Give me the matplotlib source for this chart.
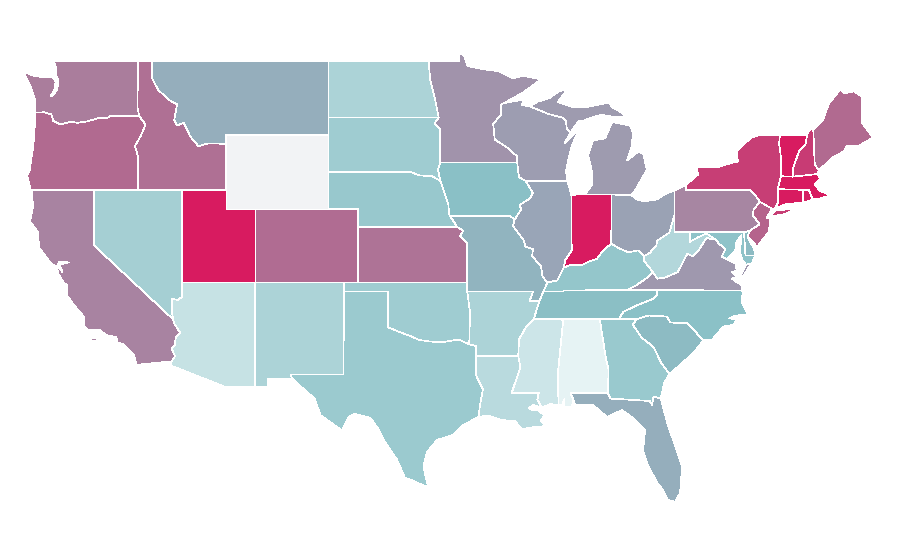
import matplotlib
matplotlib.use('Agg')
import matplotlib.pyplot as plt
from matplotlib.colors import LinearSegmentedColormap, Normalize

# value per state
state_names = ['WA', 'OR', 'CA', 'ID', 'NV', 'UT', 'AZ', 'MT', 'WY', 'CO', 'NM', 'ND', 'SD', 'NE', 'KS', 'OK', 'TX',
               'MN', 'IA', 'MO', 'AR', 'LA', 'WI', 'IL', 'MI', 'IN', 'OH', 'KY', 'TN', 'MS', 'AL', 'GA', 'FL',
               'SC', 'NC', 'VA', 'WV', 'MD', 'DE', 'PA', 'NJ', 'NY', 'CT', 'RI', 'MA', 'VT', 'NH', 'ME']
state_values = [72, 78, 70, 76, 30, 100, 17, 55, 0, 77, 27, 27, 32, 34.5, 75, 32, 33.5,
                64.5, 40, 50, 27, 22, 61, 58, 62, 100, 59, 36, 41, 14.5, 5, 34, 55,
                44, 39.5, 62.5, 24.5, 38, 44, 69.5, 80, 90, 100, 98, 100, 100, 91, 78]

color_stops = [0, 0.05, 0.40, 0.55, 0.70, 0.78, 1.0]
color_hex = ['#f2f3f5', '#e5f3f4', '#8ac0c6', '#95aebc', '#a884a1', '#b16a90', '#d81b60']

# shared borders, lon/lat
WA_OR = [(-124.02, 46.2), (-123.4, 46.22), (-122.9, 46.1), (-122.78, 45.75), (-122.3, 45.56), (-121.6, 45.7),
         (-121.1, 45.65), (-120.5, 45.72), (-119.6, 45.92), (-119.0, 45.93), (-118.98, 46.0), (-116.92, 46.0)]
ID_MT = [(-116.05, 49), (-116.05, 48.05), (-115.65, 47.45), (-114.95, 46.9), (-114.35, 46.65), (-114.55, 45.8),
         (-114.35, 45.5), (-113.9, 45.65), (-113.45, 44.9), (-112.9, 44.38), (-112.3, 44.52), (-111.5, 44.52),
         (-111.05, 44.48)]
ID_OR = [(-116.92, 46.0), (-116.5, 45.55), (-116.85, 44.9), (-117.22, 44.4), (-117.03, 43.85), (-117.03, 42)]
CA_AZ = [(-114.63, 35), (-114.57, 34.8), (-114.15, 34.27), (-114.43, 34.05), (-114.52, 33.6), (-114.72, 33.4),
         (-114.5, 33.0), (-114.72, 32.72)]
NV_AZ = [(-114.04, 37), (-114.04, 36.2), (-114.3, 36.05), (-114.72, 36.1), (-114.7, 35.4), (-114.63, 35)]
RED = [(-100, 34.56), (-99.2, 34.3), (-98.5, 34.1), (-97.9, 33.88), (-97.2, 33.8), (-96.4, 33.75), (-95.2, 33.9),
       (-94.48, 33.64)]
TX_AR = [(-94.48, 33.64), (-94.04, 33.55), (-94.04, 33.02)]
TX_LA = [(-94.04, 33.02), (-94.04, 32.0), (-93.55, 31.2), (-93.75, 30.35), (-93.85, 29.7)]
MN_WI = [(-92.1, 46.72), (-92.3, 46.65), (-92.3, 46.1), (-92.85, 45.6), (-92.75, 44.75), (-91.9, 44.3),
         (-91.25, 43.85), (-91.22, 43.5)]
IA_WI = [(-91.22, 43.5), (-91.1, 42.7), (-90.65, 42.5)]
IA_IL = [(-90.65, 42.5), (-90.15, 41.85), (-90.35, 41.55), (-91.05, 41.2), (-90.95, 40.95), (-91.4, 40.4)]
IL_MO = [(-91.4, 40.4), (-91.5, 40.05), (-90.75, 39.25), (-90.68, 38.95), (-90.15, 38.8), (-90.2, 38.4),
         (-89.6, 37.9), (-89.5, 37.3), (-89.15, 37.0)]
KY_MO = [(-89.15, 37.0), (-89.45, 36.5)]
TN_MO = [(-89.45, 36.5), (-89.7, 36.0)]
TN_AR = [(-89.7, 36.0), (-90.1, 35.0)]
MS_AR = [(-90.1, 35.0), (-90.6, 34.6), (-91.1, 33.9), (-91.15, 33.0)]
MS_LA = [(-91.15, 33.0), (-91.0, 32.4), (-91.6, 31.0), (-89.75, 31.0), (-89.85, 30.65), (-89.55, 30.2)]
KY_IL = [(-89.15, 37.0), (-88.5, 37.1), (-88.05, 37.8)]
KY_IN = [(-88.05, 37.8), (-87.6, 37.95), (-86.8, 37.95), (-86.3, 38.15), (-85.8, 38.27), (-85.4, 38.7), (-84.82, 39.1)]
KY_OH = [(-84.82, 39.1), (-84.3, 38.85), (-83.65, 38.63), (-83.0, 38.73), (-82.6, 38.42)]
OH_WV = [(-82.6, 38.42), (-82.2, 38.6), (-81.75, 39.0), (-81.7, 39.25), (-80.87, 39.7), (-80.52, 40.64)]
IL_IN = [(-87.53, 41.72), (-87.53, 39.35), (-87.5, 38.75), (-87.95, 38.2), (-88.05, 37.8)]
SD_NE = [(-98.5, 43), (-97.9, 42.8), (-97.0, 42.75), (-96.45, 42.5)]
IA_SD = [(-96.45, 43.5), (-96.6, 43.1), (-96.45, 42.5)]
IA_NE = [(-96.45, 42.5), (-96.1, 41.7), (-95.9, 41.2), (-95.85, 40.7), (-95.77, 40.58)]
NE_MO = [(-95.77, 40.58), (-95.3, 40)]
KS_MO = [(-95.3, 40), (-94.9, 39.8), (-95.1, 39.5), (-94.62, 39.1), (-94.62, 37)]
ND_MN = [(-97.23, 49), (-97.15, 48.0), (-96.8, 46.9), (-96.56, 45.94)]
SD_MN = [(-96.56, 45.94), (-96.85, 45.6), (-96.45, 45.3), (-96.45, 43.5)]
WI_MI = [(-90.4, 46.55), (-89.1, 46.13), (-88.1, 45.92), (-87.9, 45.75), (-87.85, 45.35), (-87.6, 45.1)]
GA_AL = [(-85.6, 35), (-85.18, 32.87), (-85.0, 32.3), (-85.05, 31.0)]
GA_SC = [(-83.1, 35), (-83.35, 34.7), (-82.75, 34.0), (-81.95, 33.5), (-81.4, 32.6), (-80.85, 32.03)]
NC_SC = [(-83.1, 35), (-82.3, 35.2), (-81.05, 35.15), (-80.8, 34.82), (-79.67, 34.8), (-78.55, 33.86)]
GA_FL = [(-85.05, 31.0), (-84.86, 30.7), (-82.2, 30.57), (-82.05, 30.36), (-81.95, 30.8), (-81.45, 30.72)]
MS_AL = [(-88.2, 35), (-88.1, 34.9), (-88.47, 31.9), (-88.4, 30.35)]
TN_NC = [(-84.32, 35), (-84.0, 35.4), (-83.1, 35.75), (-82.0, 36.1), (-81.7, 36.3), (-81.68, 36.59)]
KY_VA = [(-83.68, 36.6), (-83.1, 36.85), (-82.3, 37.3), (-81.97, 37.54)]
KY_WV = [(-81.97, 37.54), (-82.6, 38.17), (-82.6, 38.42)]
VA_WV = [(-81.97, 37.54), (-81.7, 37.2), (-81.2, 37.25), (-80.3, 37.55), (-79.65, 38.55), (-79.3, 38.42),
         (-78.85, 38.77), (-78.35, 39.4), (-77.72, 39.32)]
VA_MD = [(-77.72, 39.32), (-77.5, 39.1), (-77.05, 38.8), (-77.3, 38.4), (-76.95, 38.25), (-76.35, 38.0)]
MD_WV = [(-79.48, 39.72), (-79.48, 39.2), (-78.9, 39.45), (-78.35, 39.65), (-77.72, 39.32)]
PA_NJ = [(-74.7, 41.36), (-75.13, 40.97), (-75.2, 40.65), (-74.73, 40.15), (-75.4, 39.8)]
NY_PA = [(-79.76, 42.27), (-79.76, 42.0), (-75.35, 42.0), (-75.05, 41.75), (-74.7, 41.36)]
NY_VT = [(-73.35, 45), (-73.4, 44.5), (-73.25, 43.6), (-73.27, 42.75)]
NY_MA = [(-73.27, 42.75), (-73.5, 42.05)]
NY_CT = [(-73.5, 42.05), (-73.5, 41.3), (-73.7, 41.0)]
VT_NH = [(-71.5, 45), (-71.6, 44.5), (-72.05, 44.1), (-72.45, 43.2), (-72.46, 42.73)]
NH_ME = [(-71.08, 45.3), (-70.98, 43.4), (-70.7, 43.07)]
MA_NH = [(-72.46, 42.73), (-70.82, 42.87)]
CT_RI = [(-71.8, 42.02), (-71.8, 41.32)]
MA_RI = [(-71.8, 42.02), (-71.38, 42.02), (-71.12, 41.5)]


def rev(b):
    return b[::-1]


shapes = {
    'WA': [[(-124.0, 46.7), (-124.05, 47.0), (-124.3, 47.6), (-124.7, 48.2), (-124.72, 48.38), (-124.1, 48.2),
            (-123.5, 48.13), (-122.8, 48.12), (-122.62, 47.85), (-122.7, 47.45), (-122.95, 47.1), (-122.8, 47.12),
            (-122.55, 47.4), (-122.45, 47.7), (-122.45, 48.0), (-122.6, 48.2), (-122.55, 48.6), (-122.76, 49),
            (-117.03, 49), (-117.04, 46.42)] + rev(WA_OR)],
    'OR': [WA_OR + ID_OR + [(-124.3, 42), (-124.4, 42.3), (-124.56, 42.8), (-124.4, 43.0), (-124.15, 44.3),
                            (-124.05, 45.2), (-124.02, 45.9)]],
    'CA': [[(-124.25, 42), (-120, 42), (-120, 39)] + CA_AZ +
           [(-117.12, 32.53), (-117.3, 33.1), (-118.0, 33.65), (-118.4, 33.75), (-118.5, 34.03), (-119.2, 34.15),
            (-119.6, 34.42), (-120.47, 34.45), (-120.65, 34.6), (-120.7, 35.15), (-121.3, 35.7), (-121.85, 36.3),
            (-121.85, 36.6), (-121.8, 36.85), (-122.05, 36.95), (-122.45, 37.5), (-122.5, 37.78), (-122.38, 37.78),
            (-122.15, 37.55), (-122.33, 37.95), (-122.05, 38.03), (-121.7, 38.08), (-122.1, 38.1), (-122.4, 38.1),
            (-122.5, 37.88), (-122.7, 37.9), (-123.0, 38.1), (-123.75, 38.9), (-123.8, 39.7), (-124.36, 40.3),
            (-124.15, 41.1)],
           [(-120.2, 33.98), (-119.9, 33.98), (-119.9, 33.9), (-120.2, 33.9)]],
    'ID': [[(-117.03, 49)] + ID_MT + [(-111.05, 42)] + rev(ID_OR) + [(-117.04, 46.42)]],
    'NV': [[(-120, 42), (-114.04, 42)] + NV_AZ + [(-120, 39)]],
    'UT': [[(-114.04, 42), (-111.05, 42), (-111.05, 41), (-109.05, 41), (-109.05, 37), (-114.04, 37)]],
    'AZ': [[(-114.04, 37), (-109.05, 37), (-109.05, 31.33), (-111.07, 31.33), (-114.81, 32.5)] + rev(CA_AZ) + rev(NV_AZ)],
    'MT': [ID_MT + [(-111.05, 45), (-104.05, 45), (-104.05, 49)]],
    'WY': [[(-111.05, 45), (-104.05, 45), (-104.05, 41), (-111.05, 41)]],
    'CO': [[(-109.05, 41), (-102.05, 41), (-102.05, 37), (-109.05, 37)]],
    'NM': [[(-109.05, 37), (-103.0, 37), (-103.04, 32), (-106.62, 32), (-106.53, 31.78), (-108.2, 31.78),
            (-108.2, 31.33), (-109.05, 31.33)]],
    'ND': [[(-104.05, 49)] + ND_MN + [(-104.05, 45.94)]],
    'SD': [[(-104.05, 45.94)] + SD_MN + IA_SD + rev(SD_NE) + [(-104.05, 43)]],
    'NE': [[(-104.05, 43)] + SD_NE + IA_NE + NE_MO + [(-102.05, 40), (-102.05, 41), (-104.05, 41)]],
    'KS': [[(-102.05, 40)] + KS_MO + [(-102.05, 37)]],
    'OK': [[(-103, 37), (-94.62, 37), (-94.62, 36.5), (-94.43, 35.4)] + rev(RED) + [(-100, 36.5), (-103, 36.5)]],
    'TX': [[(-103, 36.5), (-100, 36.5)] + RED + TX_AR + TX_LA +
           [(-94.9, 29.27), (-95.58, 28.73), (-96.67, 28.46), (-97.35, 27.8), (-97.6, 27.0), (-97.28, 25.9),
            (-97.9, 26.1), (-98.45, 26.3), (-98.85, 26.4), (-99.4, 27.4), (-100.3, 28.45), (-100.7, 29.1),
            (-101.2, 29.65), (-102.3, 29.88), (-102.7, 29.7), (-103.15, 28.98), (-104.6, 29.8), (-105.0, 30.7),
            (-106.0, 31.4), (-106.53, 31.78), (-106.62, 32), (-103.04, 32)]],
    'MN': [[(-97.23, 49), (-95.15, 49), (-95.15, 49.38), (-94.85, 49.33), (-94.6, 48.72), (-93.5, 48.55),
            (-92.5, 48.45), (-91.5, 48.07), (-90.8, 48.2), (-89.6, 48.0), (-90.8, 47.3)] + MN_WI +
           rev(SD_MN) + rev(ND_MN)],
    'IA': [[(-96.45, 43.5)] + IA_WI + IA_IL + [(-91.7, 40.6)] + rev(IA_NE) + rev(IA_SD)],
    'MO': [[(-95.77, 40.58), (-91.7, 40.6)] + IL_MO + KY_MO + TN_MO + [(-90.37, 35.99), (-90.15, 36.5), (-94.62, 36.5)] +
           rev(KS_MO)],
    'AR': [[(-94.62, 36.5), (-90.15, 36.5), (-90.37, 35.99)] + TN_AR + MS_AR + rev(TX_AR) + [(-94.43, 35.4)]],
    'LA': [rev(TX_LA) + MS_LA + [(-90.1, 30.35), (-90.45, 30.2), (-90.1, 30.05), (-89.75, 30.05), (-89.4, 29.8),
                                 (-89.6, 29.5), (-89.15, 29.05), (-89.45, 29.2), (-90.1, 29.15), (-90.9, 29.05),
                                 (-91.4, 29.5), (-91.85, 29.5), (-92.3, 29.55), (-93.2, 29.78)]],
    'WI': [[(-91.2, 46.85), (-90.75, 46.95), (-90.9, 46.6)] + WI_MI +
           [(-88.0, 44.55), (-87.05, 45.25), (-87.5, 44.4), (-87.7, 43.8), (-87.9, 43.0), (-87.8, 42.5)] +
           rev(IA_WI) + rev(MN_WI)],
    'IL': [[(-90.65, 42.5), (-87.8, 42.5)] + IL_IN + rev(KY_IL) + rev(IL_MO) + rev(IA_IL)],
    'MI': [[(-86.6, 41.76), (-84.8, 41.76), (-83.45, 41.73), (-83.15, 42.05), (-82.4, 43.1), (-82.65, 44.0),
            (-83.0, 44.07), (-83.75, 43.6), (-83.45, 44.3), (-83.34, 45.1), (-83.54, 45.5), (-84.76, 45.7),
            (-85.24, 44.8), (-86.06, 44.7), (-86.4, 43.9), (-86.13, 43.0), (-86.13, 42.3)],
           WI_MI + [(-87.05, 45.75), (-86.7, 45.75), (-86.3, 45.9), (-85.5, 46.08), (-84.75, 45.98),
                    (-83.9, 45.97), (-84.1, 46.2), (-84.75, 46.48), (-85.0, 46.75), (-86.5, 46.5), (-87.4, 46.5),
                    (-88.45, 46.78), (-88.3, 46.95), (-87.8, 47.47), (-88.4, 47.35), (-89.0, 47.0), (-89.8, 46.8)],
           [(-89.2, 47.87), (-88.5, 48.17), (-88.5, 48.1), (-89.1, 47.82)]],
    'IN': [[(-87.53, 41.72), (-87.2, 41.76), (-86.82, 41.76), (-84.8, 41.76)] + rev(KY_IN) + rev(IL_IN)[:-1]],
    'OH': [[(-84.8, 41.76), (-83.45, 41.73), (-83.0, 41.45), (-82.5, 41.4), (-81.7, 41.5), (-81.2, 41.77),
            (-80.52, 41.98)] + rev(OH_WV) + rev(KY_OH)],
    'KY': [KY_MO + [(-88.07, 36.5), (-88.07, 36.55), (-83.68, 36.6)] + KY_VA[1:] + KY_WV + rev(KY_OH) + rev(KY_IN) +
           rev(KY_IL)],
    'TN': [[(-90.1, 35), (-88.2, 35), (-85.6, 35)] + TN_NC + [(-83.68, 36.6), (-88.07, 36.55), (-88.07, 36.5)] +
           TN_MO + TN_AR[1:]],
    'MS': [rev(MS_AR) + MS_AL + [(-89.0, 30.4)] + rev(MS_LA)[:-1]],
    'AL': [[(-88.2, 35)] + GA_AL + [(-87.6, 31.0), (-87.4, 30.65), (-87.5, 30.28), (-88.0, 30.25), (-88.0, 30.7),
                                    (-88.15, 30.35)] + rev(MS_AL)],
    'GA': [[(-85.6, 35)] + GA_SC + [(-81.2, 31.6)] + rev(GA_FL) + rev(GA_AL)[1:]],
    'FL': [[(-87.6, 31.0)] + GA_FL +
           [(-81.37, 30.46), (-81.03, 29.43), (-80.62, 28.46), (-80.0, 27.0), (-80.14, 25.59), (-80.48, 25.1),
            (-80.96, 25.2), (-81.3, 25.75), (-81.7, 26.13), (-82.39, 27.21), (-82.66, 27.9), (-82.52, 29.0),
            (-83.34, 29.65), (-84.09, 30.08), (-85.1, 29.7), (-86.06, 30.35), (-87.28, 30.35), (-87.4, 30.65)]],
    'SC': [NC_SC + [(-79.2, 33.2), (-79.9, 32.7)] + rev(GA_SC)],
    'NC': [[(-84.32, 35)] + NC_SC + [(-77.95, 33.9), (-77.2, 34.6), (-76.5, 34.7), (-76.3, 35.0), (-76.8, 35.05),
                                     (-76.4, 35.2), (-75.5, 35.25), (-75.95, 35.9), (-75.87, 36.55)] + rev(TN_NC)],
    'VA': [[(-83.68, 36.6), (-75.87, 36.55), (-76.0, 36.9), (-76.3, 37.0), (-76.6, 37.2), (-76.3, 37.3), (-76.6, 37.55),
            (-76.3, 37.65)] + rev(VA_MD) + rev(VA_WV) + KY_VA[::-1][:-1],
           [(-76.0, 37.15), (-75.4, 37.9), (-75.25, 38.03), (-75.65, 37.95), (-75.95, 37.5)]],
    'WV': [OH_WV + [(-80.52, 39.72)] + MD_WV + rev(VA_WV) + KY_WV],
    'MD': [[(-79.48, 39.72), (-75.79, 39.72), (-75.69, 38.46), (-75.05, 38.45), (-75.25, 38.03), (-75.65, 37.95),
            (-75.9, 38.2), (-76.05, 38.6), (-76.0, 39.3), (-76.0, 39.55), (-76.3, 39.2), (-76.4, 38.7)] +
           rev(VA_MD)[1:] + rev(MD_WV)],
    'DE': [[(-75.79, 39.72), (-75.4, 39.8), (-75.55, 39.45), (-75.1, 38.8), (-75.05, 38.45), (-75.69, 38.46)]],
    'PA': [[(-80.52, 41.98)] + NY_PA + PA_NJ + [(-75.79, 39.72), (-80.52, 39.72)]],
    'NJ': [[(-74.7, 41.36), (-73.9, 41.0), (-74.25, 40.48), (-74.0, 40.45), (-74.1, 39.75), (-74.9, 38.93),
            (-75.55, 39.5)] + rev(PA_NJ)[:-1]],
    'NY': [[(-79.76, 42.27), (-78.9, 42.85), (-79.05, 43.27), (-77.5, 43.27), (-76.5, 43.5), (-76.2, 43.55),
            (-76.3, 44.1), (-75.3, 44.85), (-74.7, 45.0)] + NY_VT + NY_MA + NY_CT + [(-73.9, 40.8), (-73.9, 41.0)] +
           rev(NY_PA),
           [(-74.0, 40.6), (-73.2, 40.65), (-72.0, 41.05), (-72.6, 40.98), (-73.7, 40.88)]],
    'CT': [[(-73.5, 42.05)] + CT_RI + [(-72.9, 41.25), (-73.7, 41.0), (-73.5, 41.3)]],
    'RI': [MA_RI + [(-71.5, 41.37), (-71.8, 41.32)]],
    'MA': [rev(NY_MA) + MA_NH + [(-70.6, 42.65), (-71.0, 42.3), (-70.6, 41.95), (-70.0, 41.75), (-70.25, 42.05),
                                 (-69.95, 41.7), (-70.6, 41.55)] + rev(MA_RI)],
    'VT': [[(-73.35, 45)] + VT_NH + rev(NY_VT)[:-1]],
    'NH': [[(-71.5, 45), (-71.3, 45.3)] + NH_ME + [(-70.82, 42.87)] + rev(VT_NH)[:-1]],
    'ME': [NH_ME + [(-69.8, 43.75), (-69.0, 44.1), (-68.8, 44.4), (-68.0, 44.4), (-67.0, 44.85), (-67.45, 45.3),
                    (-67.8, 45.7), (-67.8, 47.07), (-68.3, 47.35), (-69.0, 47.25), (-69.23, 47.46), (-70.0, 46.7),
                    (-70.25, 46.2), (-70.4, 45.8)]],
}

cmap = LinearSegmentedColormap.from_list('rates', list(zip(color_stops, color_hex)))
norm = Normalize(0, 100)

fig = plt.figure(figsize=(9, 5.6), dpi=100)
ax = fig.add_axes([0, 0, 1, 1])
for name, value in zip(state_names, state_values):
    for part in shapes[name]:
        xs, ys = zip(*part)
        ax.fill(xs, ys, facecolor=cmap(norm(value)), edgecolor='white', linewidth=0.5, joinstyle='round',
                antialiased=False)
ax.set_xlim(-126.4, -65.18)
ax.set_ylim(21.95, 52.306)
ax.axis('off')
fig.savefig('out.png', dpi=100)
